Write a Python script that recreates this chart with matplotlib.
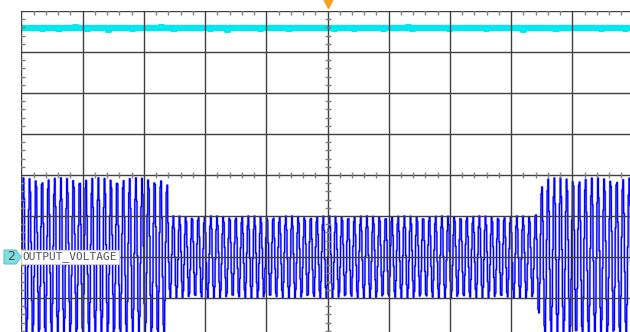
import matplotlib
matplotlib.use("Agg")
import matplotlib.pyplot as plt
from matplotlib.patches import Polygon
import numpy as np

# screen: 10 x 8 divisions, only part of it visible in the capture
X_DIVS = 10
Y_DIVS = 8

# channel 1 (cyan): flat level with noise, in divisions
CH1_LEVEL = 3.585
CH1_NOISE = [0.02, -0.03, 0.05, -0.01, 0.03, -0.05, 0.01, 0.04, -0.02, -0.04,
             0.03, 0.00, -0.03, 0.07, -0.01, 0.02, -0.05, 0.03, 0.01, -0.02,
             0.04, -0.07, 0.02, 0.00, -0.03, 0.05, -0.01, -0.04, 0.03, 0.01,
             -0.02, 0.04, -0.03, 0.02, 0.07, -0.02, 0.00, -0.05, 0.03, -0.01,
             0.02, -0.03, 0.04, -0.02, 0.01, 0.05, -0.04, 0.02, -0.01, 0.03,
             -0.07, 0.01, 0.03, -0.02, 0.04, -0.03, 0.00, 0.02, -0.04, 0.05,
             -0.01, 0.03, -0.02, 0.01, 0.04, -0.05, 0.02, -0.03, 0.01, 0.03,
             -0.02, 0.05, -0.01, -0.03, 0.02, 0.04, -0.04, 0.01, -0.02, 0.03,
             0.01, -0.04, 0.03, -0.01, 0.05, -0.02, 0.00, 0.03, -0.05, 0.02,
             -0.03, 0.04, 0.01, -0.02, 0.07, -0.04, 0.02, -0.01, 0.03, -0.03,
             0.00, 0.04, -0.02, 0.01, -0.05, 0.03, -0.01, 0.02, 0.05, -0.03,
             0.01, -0.02, 0.04, -0.04, 0.02, 0.00, -0.03, 0.05, -0.01, 0.03,
             -0.02, 0.01, -0.07, 0.03, 0.02, -0.01, 0.04, -0.03, 0.00, 0.02,
             -0.04, 0.03, -0.02, 0.05, -0.01, 0.01, -0.03, 0.04, -0.02, 0.02,
             0.03, -0.05, 0.01, -0.01, 0.04, -0.02, 0.02, -0.04, 0.03, 0.00]

# channel 2 (blue): OUTPUT_VOLTAGE, sine bursts
CH2_OFFSET = -2.0
CH2_CYCLES_PER_DIV = 9.8
CH2_SAMPLES_PER_DIV = 80
CH2_ENV_X = [0.0, 2.37, 2.40, 8.38, 8.52, 10.0]
CH2_ENV_AMP = [1.93, 1.93, 1.0, 1.0, 1.93, 1.93]
CH2_LABEL = "OUTPUT_VOLTAGE"

W, H = 630, 332
fig = plt.figure(figsize=(W / 100, H / 100), dpi=100)
left_px, top_px = 21.5, 11.0
div_w, div_h = 61.2, 41.0
ax = fig.add_axes([left_px / W, 1 - (top_px + Y_DIVS * div_h) / H,
                   X_DIVS * div_w / W, Y_DIVS * div_h / H])
ax.set_xlim(0, X_DIVS)
ax.set_ylim(-Y_DIVS / 2, Y_DIVS / 2)
ax.set_xticks([])
ax.set_yticks([])
for s in ax.spines.values():
    s.set_visible(False)

grid_c = "#3f3f3f"
for gx in range(X_DIVS + 1):
    ax.axvline(gx, color=grid_c, lw=1.0, zorder=3)
for gy in range(-Y_DIVS // 2, Y_DIVS // 2 + 1):
    ax.axhline(gy, color=grid_c, lw=1.0, zorder=3)

# minor tick marks on top border, left border and centre cross
minor_x = [v / 5 for v in range(X_DIVS * 5 + 1) if v % 5]
minor_y = [v / 5 - Y_DIVS / 2 for v in range(Y_DIVS * 5 + 1) if v % 5]
tick_c = "#808080"
ax.plot(minor_x, [Y_DIVS / 2] * len(minor_x), ls="none", marker="|",
        ms=6, mew=1, color=tick_c, zorder=3)
ax.plot([0] * len(minor_y), minor_y, ls="none", marker="_",
        ms=6, mew=1, color=tick_c, zorder=3)
ax.plot(minor_x, [0] * len(minor_x), ls="none", marker="|",
        ms=5, mew=1, color=tick_c, zorder=3)
ax.plot([X_DIVS / 2] * len(minor_y), minor_y, ls="none", marker="_",
        ms=5, mew=1, color=tick_c, zorder=3)

# channel 1
x1 = np.linspace(0, X_DIVS, len(CH1_NOISE))
y1 = CH1_LEVEL + np.array(CH1_NOISE)
ax.plot([0, X_DIVS], [CH1_LEVEL, CH1_LEVEL], color="#00e8f0", lw=4.5, zorder=2)
ax.plot(x1, y1, color="#00e8f0", lw=2.2, zorder=2, drawstyle="steps-mid")

# channel 2 (sampled sine, stepped)
t = np.linspace(0, X_DIVS, 10000)
t_s = np.floor(t * CH2_SAMPLES_PER_DIV) / CH2_SAMPLES_PER_DIV
env = np.interp(t_s, CH2_ENV_X, CH2_ENV_AMP)
y2 = CH2_OFFSET + env * np.sin(2 * np.pi * CH2_CYCLES_PER_DIV * t_s)
ax.plot(t, y2, color="#7878ff", lw=1.6, zorder=2, alpha=0.6)
ax.plot(t, y2, color="#0000ff", lw=0.9, zorder=2)

# trigger marker
ax.plot([X_DIVS / 2], [Y_DIVS / 2 + 8 / div_h], marker="v", ms=7,
        color="#f5a01e", mec="#f5a01e", clip_on=False, zorder=5)

# channel label
ax.text(0.02, CH2_OFFSET, CH2_LABEL, family="DejaVu Sans Mono", fontsize=8,
        color="#555555", va="center", ha="left", zorder=6,
        bbox=dict(boxstyle="square,pad=0.15", fc="white", ec="#d0d0d0", lw=0.8))
yb = 257
pts = [(4, yb - 7), (16, yb - 7), (21, yb), (16, yb + 7), (4, yb + 7)]
badge = Polygon([(px / W, 1 - py / H) for px, py in pts], closed=True,
                fc="#7fdfe0", ec="#5ec6c8", lw=0.8, transform=fig.transFigure)
fig.patches.append(badge)
fig.text(11 / W, 1 - yb / H, "2", fontsize=9, color="#4a4a4a",
         ha="center", va="center")

fig.savefig("out.png", dpi=100)
